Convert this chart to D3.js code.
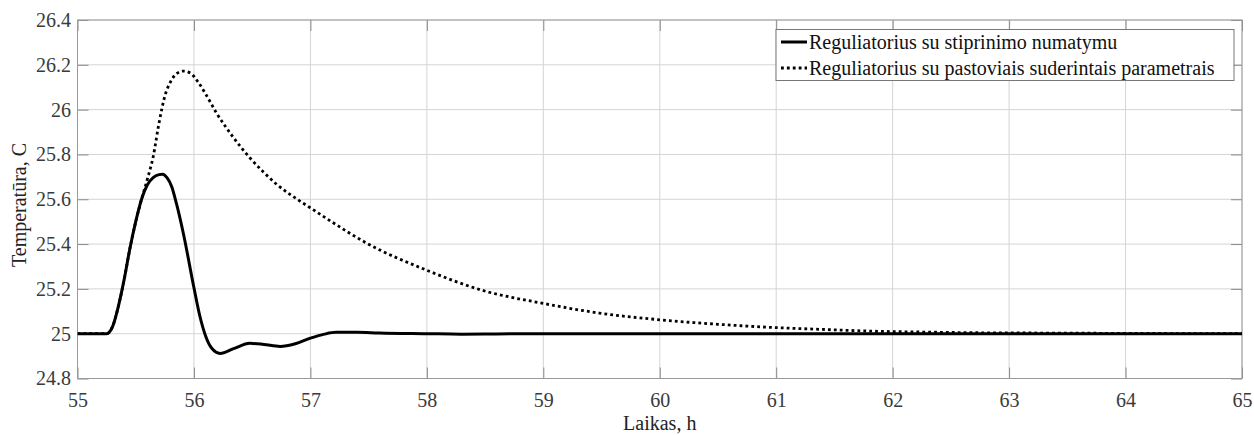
<!DOCTYPE html>
<html>
<head>
<meta charset="utf-8">
<script src="https://cdn.jsdelivr.net/npm/d3@7"></script>
<style>
  html, body { margin: 0; padding: 0; background: #fff; }
  svg { display: block; }
  text { font-family: "Liberation Serif", "Times New Roman", serif; }
</style>
</head>
<body>
<svg id="chart" width="1254" height="435" font-family="Liberation Serif, Times New Roman, serif"></svg>
<script>
// ---- data ----
const seriesNames = ["Reguliatorius su stiprinimo numatymu", "Reguliatorius su pastoviais suderintais parametrais"];
const xTicks = [55, 56, 57, 58, 59, 60, 61, 62, 63, 64, 65];
const yTicks = [24.8, 25, 25.2, 25.4, 25.6, 25.8, 26, 26.2, 26.4];
const yTickLabels = ["24.8", "25", "25.2", "25.4", "25.6", "25.8", "26", "26.2", "26.4"];
const xLabel = "Laikas, h";
const yLabel = "Temperatūra, C";

const solidT = [55, 55.25, 55.3, 55.35, 55.4, 55.45, 55.5, 55.55, 55.6, 55.65, 55.7, 55.73, 55.77, 55.81, 55.85, 55.91, 56.0, 56.05, 56.1, 56.153, 56.225, 56.34, 56.48, 56.6, 56.74, 56.87, 57.0, 57.12, 57.22, 57.4, 57.59, 58.0, 58.3, 58.6, 59, 60, 61, 62, 63, 64, 65];
const solidV = [25, 25, 25.03, 25.12, 25.24, 25.38, 25.5, 25.6, 25.665, 25.697, 25.71, 25.712, 25.695, 25.655, 25.58, 25.445, 25.205, 25.08, 24.99, 24.935, 24.912, 24.933, 24.957, 24.952, 24.943, 24.955, 24.98, 24.998, 25.006, 25.006, 25.003, 25.0, 24.998, 24.999, 25, 25, 25, 25, 25, 25, 25];

const dotT = [55, 55.25, 55.3, 55.35, 55.4, 55.45, 55.5, 55.55, 55.6, 55.65, 55.7, 55.75, 55.8, 55.85, 55.91, 55.97, 56.04, 56.1, 56.196, 56.34, 56.48, 56.6, 56.71, 56.91, 57.04, 57.19, 57.48, 58.0, 58.48, 59.0, 59.48, 60.0, 60.5, 60.92, 61.4, 61.84, 62.3, 62.75, 63.2, 63.67, 64.2, 65];
const dotV = [25, 25, 25.03, 25.12, 25.24, 25.38, 25.5, 25.6, 25.69, 25.79, 25.94, 26.06, 26.125, 26.16, 26.172, 26.163, 26.12, 26.07, 25.983, 25.875, 25.785, 25.72, 25.667, 25.592, 25.548, 25.497, 25.405, 25.283, 25.193, 25.135, 25.092, 25.062, 25.042, 25.029, 25.019, 25.011, 25.007, 25.004, 25.003, 25.002, 25.001, 25.0];

// ---- layout ----
const FONT = '"Liberation Serif", "Times New Roman", serif';
const svg = d3.select("#chart");
const L = 77.5, R = 1242, T = 20, B = 378.5;

const x = d3.scaleLinear().domain([55, 65]).range([L, R]);
const y = d3.scaleLinear().domain([24.8, 26.4]).range([B, T]);

// grid
const grid = svg.append("g");
grid.selectAll(".vg").data(xTicks).join("line")
  .attr("x1", d => x(d)).attr("x2", d => x(d)).attr("y1", T).attr("y2", B)
  .attr("stroke", "#d4d4d4").attr("stroke-width", 1);
grid.selectAll(".hg").data(yTicks).join("line")
  .attr("y1", d => y(d)).attr("y2", d => y(d)).attr("x1", L).attr("x2", R)
  .attr("stroke", "#d4d4d4").attr("stroke-width", 1);

// axes (ticks inward, MATLAB style)
const tickLen = 11;
const gx = svg.append("g").attr("transform", `translate(0,${B})`)
  .call(d3.axisBottom(x).tickValues(xTicks).tickFormat(d3.format("d")).tickSizeInner(-tickLen).tickSizeOuter(0).tickPadding(14));
const gxt = svg.append("g").attr("transform", `translate(0,${T})`)
  .call(d3.axisTop(x).tickValues(xTicks).tickFormat("").tickSizeInner(-tickLen).tickSizeOuter(0));
const gy = svg.append("g").attr("transform", `translate(${L},0)`)
  .call(d3.axisLeft(y).tickValues(yTicks).tickFormat((d, i) => yTickLabels[i]).tickSizeInner(-tickLen).tickSizeOuter(0).tickPadding(6.5));
const gyr = svg.append("g").attr("transform", `translate(${R},0)`)
  .call(d3.axisRight(y).tickValues(yTicks).tickFormat("").tickSizeInner(-tickLen).tickSizeOuter(0));

[gx, gxt, gy, gyr].forEach(g => {
  g.attr("font-family", FONT).attr("font-size", 20);
  g.select(".domain").remove();
  g.selectAll(".tick line").attr("stroke", "#8a8a8a").attr("stroke-width", 1);
  g.selectAll("text").attr("font-family", FONT).style("font-family", FONT)
    .style("font-size", "20px").attr("fill", "#3a3a3a");
});

// box
svg.append("rect").attr("x", L).attr("y", T).attr("width", R - L).attr("height", B - T)
  .attr("fill", "none").attr("stroke", "#9a9a9a").attr("stroke-width", 1);

// lines
svg.append("clipPath").attr("id", "clip").append("rect")
  .attr("x", L).attr("y", T).attr("width", R - L).attr("height", B - T);

const line = d3.line().x(d => x(d[0])).y(d => y(d[1])).curve(d3.curveMonotoneX);
const solidData = solidT.map((t, i) => [t, solidV[i]]);
const dotData = dotT.map((t, i) => [t, dotV[i]]);

svg.append("path").datum(dotData).attr("d", line).attr("clip-path", "url(#clip)")
  .attr("fill", "none").attr("stroke", "#000").attr("stroke-width", 2.8)
  .attr("stroke-dasharray", "2.8,3.1");
svg.append("path").datum(solidData).attr("d", line).attr("clip-path", "url(#clip)")
  .attr("fill", "none").attr("stroke", "#000").attr("stroke-width", 3)
  .attr("stroke-linejoin", "round");

// legend
const lg = svg.append("g");
lg.append("rect").attr("x", 776).attr("y", 29.5).attr("width", 458).attr("height", 51)
  .attr("fill", "#fff").attr("stroke", "#777").attr("stroke-width", 1);
const rows = [{ y: 42, dash: null }, { y: 68, dash: "2.8,3.1" }];
rows.forEach((r, i) => {
  lg.append("line").attr("x1", 781).attr("x2", 807).attr("y1", r.y).attr("y2", r.y)
    .attr("stroke", "#000").attr("stroke-width", i === 0 ? 3 : 2.8)
    .attr("stroke-dasharray", r.dash);
  lg.append("text").attr("x", 809).attr("y", r.y).attr("dy", "0.35em")
    .attr("font-family", FONT).style("font-size", "20px").attr("fill", "#111").text(seriesNames[i]);
});

// axis labels
svg.append("text").attr("x", (L + R) / 2).attr("y", 430).attr("text-anchor", "middle")
  .attr("font-family", FONT).style("font-size", "20px").attr("fill", "#222").text(xLabel);
svg.append("text").attr("transform", `translate(26,205) rotate(-90)`)
  .attr("text-anchor", "middle").attr("font-family", FONT).style("font-size", "20px").attr("fill", "#222").text(yLabel);
</script>
</body>
</html>
